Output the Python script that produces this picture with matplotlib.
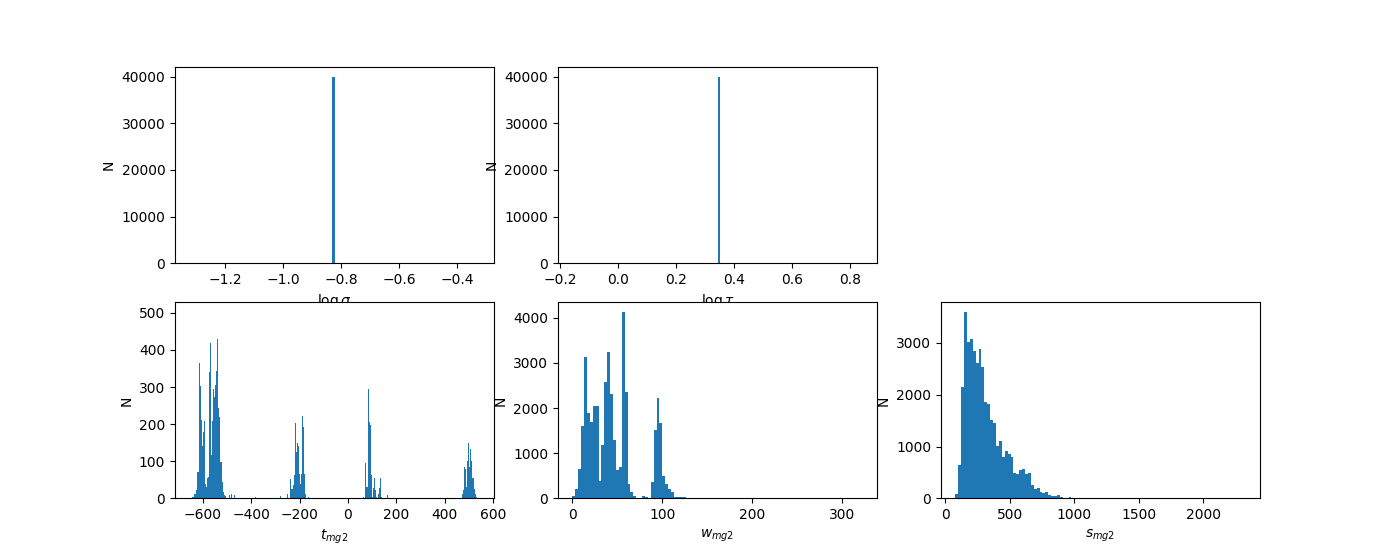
import numpy as np
import matplotlib
matplotlib.use("Agg")
import matplotlib.pyplot as plt

# top row: every sample has the same value
log_sigma = -0.827
log_tau = 0.3435
n_samples = 40000

# t_mg2: non-empty bins (centre, count), 290 bins
t_edges = np.linspace(-655, 545, 291)
t_values = [-645, -640, -636, -632, -628, -624, -620, -616, -611, -607,
            -603, -599, -595, -591, -587, -583, -578, -574, -570, -566,
            -562, -558, -554, -549, -545, -541, -537, -533, -529, -525,
            -521, -516, -512, -508, -493, -485, -472,
            -384, -279,
            -252, -239, -235, -231, -227, -223, -218, -214, -210, -206,
            -202, -198, -194, -189, -185, -181, -177, -165,
            63, 71, 75, 79, 84, 88, 92, 96, 100, 104,
            108, 113, 117, 125, 129, 133, 137, 162,
            473, 477, 481, 485, 489, 493, 497, 501, 506, 510,
            514, 518, 522, 526, 530]
t_counts = [5, 5, 12, 12, 23, 70, 71, 366, 303, 212,
            140, 179, 209, 40, 32, 56, 58, 341, 419, 117,
            209, 295, 272, 306, 342, 430, 243, 220, 99, 97,
            44, 17, 9, 6, 10, 12, 10,
            5, 7,
            11, 51, 24, 24, 35, 62, 203, 124, 149, 141,
            65, 40, 65, 222, 192, 65, 11, 3,
            3, 95, 32, 30, 295, 205, 197, 62, 5, 27,
            54, 22, 5, 11, 27, 54, 3, 8,
            12, 22, 85, 78, 30, 100, 150, 85, 132, 100,
            54, 55, 25, 11, 5]

# w_mg2: 100 bins from 0 to 323
w_edges = np.linspace(0, 323, 101)
w_counts = [44, 207, 644, 1600, 3133, 1889, 1689, 2044, 2044, 378,
            1178, 2578, 3244, 2311, 1289, 622, 689, 4133, 2356, 311,
            133, 44, 3, 0, 44, 22, 2, 356, 1511, 2222,
            1667, 489, 311, 200, 133, 22, 22, 22, 22, 15,
            0, 0, 0, 0, 0, 0, 0, 0, 0, 0,
            0, 0, 0, 0, 0, 0, 0, 0, 0, 0,
            0, 0, 0, 0, 0, 0, 0, 0, 0, 0,
            0, 0, 0, 0, 0, 0, 0, 0, 0, 0,
            0, 0, 0, 0, 0, 0, 0, 0, 0, 0,
            0, 0, 0, 0, 0, 0, 0, 0, 0, 1]

# s_mg2: 100 bins from 77 to 2330
s_edges = np.linspace(77, 2330, 101)
s_counts = [77, 639, 2148, 3600, 3019, 3077, 2845, 2613, 2884, 2535,
            1858, 1819, 1510, 1452, 1006, 1103, 794, 910, 852, 794,
            484, 465, 542, 561, 465, 484, 252, 174, 194, 116,
            97, 116, 58, 39, 39, 58, 19, 5, 0, 19,
            0, 0, 0, 0, 0, 0, 0, 0, 0, 0,
            0, 0, 0, 0, 0, 0, 0, 0, 0, 0,
            0, 0, 0, 0, 0, 0, 0, 0, 0, 0,
            0, 0, 0, 0, 0, 0, 0, 0, 0, 0,
            0, 0, 0, 0, 0, 0, 0, 0, 0, 0,
            0, 0, 0, 0, 0, 0, 0, 0, 0, 1]

plt.figure(figsize=(14, 5.6), dpi=100)

plt.subplot(2, 3, 1)
plt.hist([log_sigma], bins=100, range=(log_sigma - 0.495, log_sigma + 0.505),
         weights=[n_samples])
plt.xlabel(r"$\log\sigma$")
plt.ylabel("N")

plt.subplot(2, 3, 2)
plt.hist([log_tau], bins=100, weights=[n_samples])
plt.xlabel(r"$\log\tau$")
plt.ylabel("N")

plt.subplot(2, 3, 4)
plt.hist(t_values, bins=t_edges, weights=t_counts)
plt.ylim(0, 528)
plt.xlabel(r"$t_{mg2}$")
plt.ylabel("N")

plt.subplot(2, 3, 5)
plt.hist(w_edges[:-1], bins=w_edges, weights=w_counts)
plt.xlabel(r"$w_{mg2}$")
plt.ylabel("N")

plt.subplot(2, 3, 6)
plt.hist(s_edges[:-1], bins=s_edges, weights=s_counts)
plt.xlabel(r"$s_{mg2}$")
plt.ylabel("N")

plt.savefig("out.png")
